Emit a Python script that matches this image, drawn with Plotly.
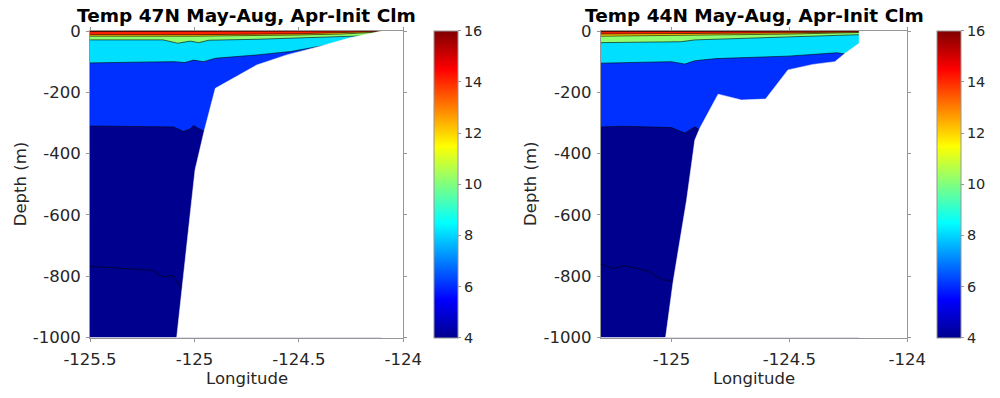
import plotly.graph_objects as go

# ---------------- data ----------------
# Left panel: 47N.  Isotherm depths (m) vs longitude
L_lon4 = [-125.5, -125.2, -125.17, -125.15, -125.10, -125.06, -125.04]
L_d4 = [-768, -781, -795, -802, -798, -845, -870]
L_lon6 = [-125.5, -125.1, -125.07, -125.053, -125.02, -125.005, -124.98, -124.95, -124.92]
L_d6 = [-310, -313, -322, -328, -320, -308, -318, -328, -335]
L_lon8 = [-125.5, -125.10, -125.045, -125.005, -124.957, -124.90, -124.70, -124.54, -124.41, -124.36]
L_d8 = [-104, -100, -103, -95, -100, -89, -78, -67, -51, -45]
L_lon10 = [-125.5, -125.15, -125.08, -125.02, -124.98, -124.93, -124.7, -124.5, -124.3, -124.2]
L_d10 = [-29, -29, -40, -33, -38, -30, -27, -22, -17, -14]
L_lon12 = [-125.5, -125.0, -124.5, -124.3, -124.15, -124.1]
L_d12 = [-17, -17, -13, -10, -5, -3]
L_lon14 = [-125.5, -125.0, -124.5, -124.3, -124.15, -124.1]
L_d14 = [-12, -12, -9, -6, -3, -1.5]
L_lon16 = [-125.5, -125.0, -124.5, -124.2, -124.1]
L_d16 = [-1.8, -1.8, -1.2, -0.6, 0]
# Left bathymetry (sea floor)
L_bath_lon = [-124.104, -124.264, -124.41, -124.558, -124.702, -124.814, -124.90,
              -124.954, -124.997, -125.013, -125.061, -125.085]
L_bath_d = [0, -24, -52, -78, -111, -154, -187, -328, -453, -551, -845, -1000]

# Right panel: 44N
R_lon4 = [-125.30, -125.248, -125.198, -125.099, -125.036, -125.007, -124.993, -124.97]
R_d4 = [-761, -775, -766, -784, -813, -813, -822, -840]
R_lon6 = [-125.30, -125.205, -125.0, -124.944, -124.901, -124.88, -124.86]
R_d6 = [-313, -311, -315, -333, -313, -323, -330]
R_lon8 = [-125.30, -125.0, -124.944, -124.901, -124.809, -124.505, -124.30, -124.264]
R_d8 = [-105, -100, -108, -97, -90, -82, -71, -75]
R_lon10 = [-125.3, -125.1, -124.96, -124.9, -124.7, -124.5, -124.204]
R_d10 = [-38, -37, -35, -29, -24, -19, -12]
R_lon12 = [-125.3, -124.9, -124.5, -124.204]
R_d12 = [-17, -14, -10, -5]
R_lon14 = [-125.3, -124.9, -124.5, -124.204]
R_d14 = [-10, -8.5, -6, -3]
R_lon16 = [-125.3, -124.9, -124.5, -124.204]
R_d16 = [-2, -1.8, -1.2, -0.5]
R_bath_lon = [-124.204, -124.204, -124.264, -124.307, -124.40, -124.506, -124.601,
              -124.703, -124.802, -124.88, -124.901, -124.936, -124.993, -125.025]
R_bath_d = [0, -40, -73, -100, -109, -127, -222, -225, -206, -317, -356, -552, -818, -1000]

levels = [4, 6, 8, 10, 12, 14, 16]
titles = ["Temp 47N May-Aug, Apr-Init Clm", "Temp 44N May-Aug, Apr-Init Clm"]
x_ticks = [-125.5, -125, -124.5, -124]
x_ticktext = ["-125.5", "-125", "-124.5", "-124"]
y_ticks = [0, -200, -400, -600, -800, -1000]
y_ticktext = ["0", "-200", "-400", "-600", "-800", "-1000"]
cb_ticks = [4, 6, 8, 10, 12, 14, 16]

# ---------------- styling ----------------
FONT = "DejaVu Sans"
jet = [[0.0, "rgb(0,0,143)"], [0.125, "rgb(0,0,255)"], [0.375, "rgb(0,255,255)"],
       [0.625, "rgb(255,255,0)"], [0.875, "rgb(255,0,0)"], [1.0, "rgb(128,0,0)"]]
level_color = {4: "rgb(0,0,143)", 6: "rgb(0,48,255)", 8: "rgb(0,223,255)",
               10: "rgb(143,255,112)", 12: "rgb(255,207,0)", 14: "rgb(255,32,0)",
               16: "rgb(128,0,0)"}
AX = "rgb(150,150,150)"
TXT = "rgb(38,38,38)"
LW = 0.6

panels = [
    dict(xr=[-125.5, -124.0], dom=[0.090, 0.4033], cbx=0.434,
         iso={4: (L_lon4, L_d4), 6: (L_lon6, L_d6), 8: (L_lon8, L_d8), 10: (L_lon10, L_d10),
              12: (L_lon12, L_d12), 14: (L_lon14, L_d14), 16: (L_lon16, L_d16)},
         bath=(L_bath_lon, L_bath_d)),
    dict(xr=[-125.3, -124.0], dom=[0.6007, 0.9073], cbx=0.937,
         iso={4: (R_lon4, R_d4), 6: (R_lon6, R_d6), 8: (R_lon8, R_d8), 10: (R_lon10, R_d10),
              12: (R_lon12, R_d12), 14: (R_lon14, R_d14), 16: (R_lon16, R_d16)},
         bath=(R_bath_lon, R_bath_d)),
]

YTOP_PX, YBOT_PX, H, W = 31.0, 337.5, 398, 1000
ydom = [1 - YBOT_PX / H, 1 - YTOP_PX / H]
yr = [-1000, 0]

fig = go.Figure()
layout = dict(width=W, height=H, margin=dict(l=0, r=0, t=0, b=0, autoexpand=False),
              paper_bgcolor="white", plot_bgcolor="white", showlegend=False,
              font=dict(family=FONT, color=TXT), annotations=[])

for i, p in enumerate(panels):
    xa = "x" if i == 0 else "x2"
    ya = "y" if i == 0 else "y2"
    x0, x1 = p["xr"]
    bl, bd = p["bath"]
    xcoast = max(bl)
    # deep background (navy, temperatures 4-6)
    fig.add_trace(go.Scatter(x=[x0, xcoast], y=[yr[0], yr[0]], mode="lines", fill="tozeroy",
                             fillcolor=level_color[4], line=dict(width=0),
                             xaxis=xa, yaxis=ya, hoverinfo="skip"))
    # bands: each isotherm filled up to the surface with its level color
    for lv in levels:
        lon, d = p["iso"][lv]
        xs = list(lon)
        ys = list(d)
        if xs[-1] < xcoast:
            xs.append(xcoast)
            ys.append(d[-1])
        if lv == 4:
            fig.add_trace(go.Scatter(x=xs, y=ys, mode="lines",
                                     line=dict(color="black", width=LW),
                                     xaxis=xa, yaxis=ya, hoverinfo="skip"))
        else:
            fig.add_trace(go.Scatter(x=xs, y=ys, mode="lines", fill="tozeroy",
                                     fillcolor=level_color[lv],
                                     line=dict(color="black", width=LW),
                                     xaxis=xa, yaxis=ya, hoverinfo="skip"))
    # bathymetry mask (white)
    mx = list(bl) + [bl[-1] - 0.2, xcoast + 0.05, xcoast + 0.05, bl[0]]
    my = list(bd) + [yr[0] - 50, yr[0] - 50, yr[1] + 20, yr[1] + 20]
    fig.add_trace(go.Scatter(x=mx, y=my, mode="lines", fill="toself", fillcolor="white",
                             line=dict(color="white", width=0.5),
                             xaxis=xa, yaxis=ya, hoverinfo="skip"))
    # colorbar carrier
    ca = "coloraxis" if i == 0 else "coloraxis2"
    fig.add_trace(go.Scatter(x=[None], y=[None], mode="markers",
                             marker=dict(color=[4], coloraxis=ca),
                             xaxis=xa, yaxis=ya, hoverinfo="skip"))
    layout[ca] = dict(cmin=4, cmax=16, colorscale=jet,
                      colorbar=dict(x=p["cbx"], xanchor="left", thickness=24,
                                    thicknessmode="pixels", lenmode="pixels",
                                    len=YBOT_PX - YTOP_PX,
                                    y=(ydom[0] + ydom[1]) / 2, yanchor="middle",
                                    xpad=0, ypad=0, outlinewidth=1, outlinecolor=AX,
                                    tickvals=cb_ticks, ticktext=[str(t) for t in cb_ticks],
                                    ticks="outside", ticklen=3, tickcolor=AX,
                                    tickfont=dict(family=FONT, size=14.5, color=TXT)))
    axname = "xaxis" if i == 0 else "xaxis2"
    ayname = "yaxis" if i == 0 else "yaxis2"
    layout[axname] = dict(domain=p["dom"], range=p["xr"], anchor=ya, automargin=False,
                          tickvals=x_ticks, ticktext=x_ticktext,
                          showgrid=False, zeroline=False, showline=True, linecolor=AX,
                          linewidth=1, mirror="ticks", ticks="outside", ticklen=3,
                          tickcolor=AX, tickfont=dict(family=FONT, size=16.5, color=TXT),
                          ticklabelstandoff=4)
    layout[ayname] = dict(domain=ydom, range=yr, anchor=xa, automargin=False,
                          tickvals=y_ticks, ticktext=y_ticktext,
                          showgrid=False, zeroline=False, showline=True, linecolor=AX,
                          linewidth=1, mirror="ticks", ticks="outside", ticklen=3,
                          tickcolor=AX, tickfont=dict(family=FONT, size=16.5, color=TXT),
                          ticklabelstandoff=2)
    xc = (p["dom"][0] + p["dom"][1]) / 2
    layout["annotations"] += [
        dict(text="<b>" + titles[i] + "</b>", x=xc, y=1 - 16 / H, xref="paper", yref="paper",
             xanchor="center", yanchor="middle", showarrow=False,
             font=dict(family=FONT, size=18.5, color="black")),
        dict(text="Longitude", x=xc, y=1 - 378 / H, xref="paper", yref="paper",
             xanchor="center", yanchor="middle", showarrow=False,
             font=dict(family=FONT, size=16.5, color=TXT)),
        dict(text="Depth (m)", x=(p["dom"][0] * W - 70) / W, y=(ydom[0] + ydom[1]) / 2,
             xref="paper", yref="paper", xanchor="center", yanchor="middle",
             textangle=-90, showarrow=False,
             font=dict(family=FONT, size=16.5, color=TXT)),
    ]

fig.update_layout(**layout)
fig.write_html("out.html", post_script="document.body.style.margin='0';",
               config={"displayModeBar": False})
